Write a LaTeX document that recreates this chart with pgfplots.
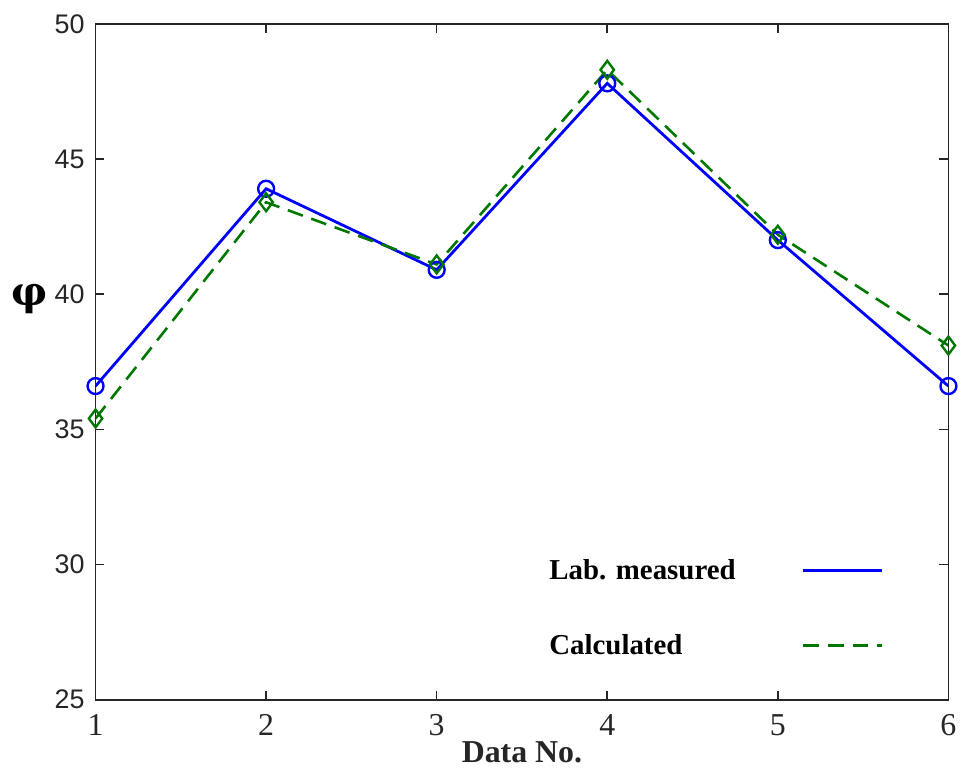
\documentclass[border=0pt]{standalone}
\usepackage{pgfplots}
\pgfplotsset{compat=1.18}
\usetikzlibrary{calc}
\usepackage{fontspec}
\setmainfont{Liberation Serif}
\newfontfamily\sansf{Liberation Sans}
\newfontfamily\phif{DejaVu Serif}
\definecolor{mblue}{RGB}{0,0,255}
\definecolor{mgreen}{RGB}{0,120,0}
\begin{document}
\begin{tikzpicture}
\begin{axis}[
  name=ax,
  scale only axis,
  width=428.5pt, height=339.5pt,
  xmin=1, xmax=6, ymin=25, ymax=50,
  xtick={1,2,3,4,5,6},
  ytick={25,30,35,40,45,50},
  tick align=inside,
  major tick length=4.5pt,
  axis line style={line width=0.9pt, black!85},
  every tick/.style={line width=0.8pt, black!85},
  /pgf/number format/assume math mode=true,
  yticklabel style={font=\sansf\fontsize{13.5}{13.5}\selectfont, black!85, xshift=-2pt},
  xticklabel style={font=\fontsize{16}{16}\selectfont, black!85, yshift=-4pt},
  xlabel={\textbf{Data No.}},
  xlabel style={font=\fontsize{16}{16}\selectfont, yshift=4pt, black!85},
  legend plot pos=right,
  legend cell align=left,
  legend style={at={(axis description cs:0.52,0.22)}, anchor=north west,
    draw=none, fill=none, row sep=22pt, column sep=31pt,
    font=\bfseries\fontsize{14.5}{14.5}\selectfont},
  legend image code/.code={\draw[#1,mark=none] (0pt,0pt) -- (40pt,0pt);},
]
\addplot[color=mblue, line width=1.4pt, mark=o, mark size=4pt, mark options={solid, line width=1.2pt}]
  coordinates {(1,36.6) (2,43.9) (3,40.9) (4,47.8) (5,42.0) (6,36.6)};
\addlegendentry{Lab. measured}
\addplot[color=mgreen, line width=1.3pt, dash pattern=on 8pt off 4.5pt, mark=diamond, mark size=4.5pt, mark options={solid, line width=1.2pt}]
  coordinates {(1,35.4) (2,43.4) (3,41.1) (4,48.3) (5,42.2) (6,38.1)};
\addlegendentry{Calculated}
\end{axis}
\node[font=\phif\bfseries\fontsize{20}{20}\selectfont] at ($(ax.south west)!0.593!(ax.north west) + (-33pt,0)$) {φ};
\path (ax.south west) ++(-48pt,-37.5pt) coordinate (bl);
\path (ax.north east) ++(5pt,12pt) coordinate (tr);
\path (bl) rectangle (tr);
\end{tikzpicture}
\end{document}
